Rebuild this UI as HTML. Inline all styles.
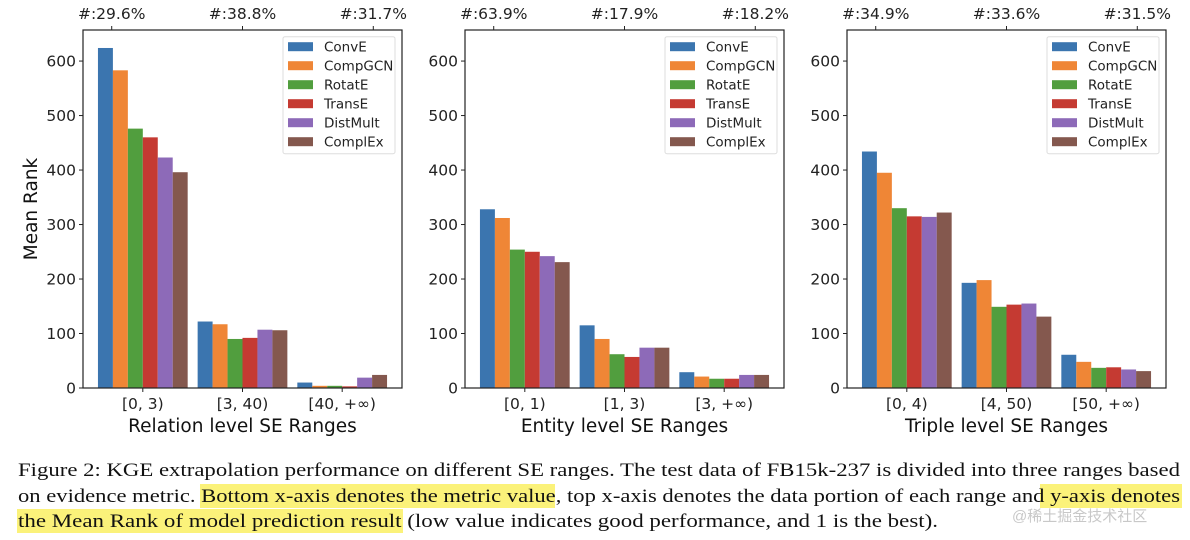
<!DOCTYPE html>
<html><head><meta charset="utf-8"><style>
body{margin:0;background:#fff;}
svg{display:block;font-family:"DejaVu Sans","Liberation Sans",sans-serif;}
</style></head><body>
<svg id="fig" width="1190" height="540" viewBox="0 0 1190 540" xmlns="http://www.w3.org/2000/svg">
<g id="charts"></g>
<g id="caption" font-family="'Liberation Serif',serif" font-size="19" fill="#111">
<rect x="200" y="484" width="355" height="24" fill="#fbf27a"/>
<rect x="1040" y="484" width="142" height="24" fill="#fbf27a"/>
<rect x="17" y="509" width="386" height="24" fill="#fbf27a"/>
<text x="18" y="476" textLength="1162" lengthAdjust="spacingAndGlyphs">Figure 2: KGE extrapolation performance on different SE ranges. The test data of FB15k-237 is divided into three ranges based</text>
<text x="18" y="502" textLength="1162" lengthAdjust="spacingAndGlyphs">on evidence metric. Bottom x-axis denotes the metric value, top x-axis denotes the data portion of each range and y-axis denotes</text>
<text x="18" y="527" textLength="920" lengthAdjust="spacingAndGlyphs">the Mean Rank of model prediction result (low value indicates good performance, and 1 is the best).</text>
<text x="1012" y="521" font-family="'Liberation Sans','Noto Sans CJK SC',sans-serif" font-size="15" fill="#c8c8c8">@稀土掘金技术社区</text>
</g>
</svg>
<script>
const series = ["ConvE","CompGCN","RotatE","TransE","DistMult","ComplEx"];
const colors = ["#3b75af","#ef8636","#519e3e","#c53a32","#8d6ab8","#84584e"];
const yTicks = [0,100,200,300,400,500,600];
const relCats = ["[0, 3)","[3, 40)","[40, +\u221e)"];
const relTop = ["#:29.6%","#:38.8%","#:31.7%"];
const relConvE=[624,122,10], relCompGCN=[583,117,4], relRotatE=[476,90,4], relTransE=[460,92,3], relDistMult=[423,107,19], relComplEx=[396,106,24];
const entCats = ["[0, 1)","[1, 3)","[3, +\u221e)"];
const entTop = ["#:63.9%","#:17.9%","#:18.2%"];
const entConvE=[328,115,29], entCompGCN=[312,90,21], entRotatE=[254,62,17], entTransE=[250,57,17], entDistMult=[242,74,24], entComplEx=[231,74,24];
const triCats = ["[0, 4)","[4, 50)","[50, +\u221e)"];
const triTop = ["#:34.9%","#:33.6%","#:31.5%"];
const triConvE=[434,193,61], triCompGCN=[395,198,48], triRotatE=[330,149,37], triTransE=[315,153,38], triDistMult=[314,155,34], triComplEx=[322,131,31];

const panels = [
 {name:"relation",left:83,cats:relCats,top:relTop,xlabel:"Relation level SE Ranges",vals:[relConvE,relCompGCN,relRotatE,relTransE,relDistMult,relComplEx],ylabel:true},
 {name:"entity",left:465,cats:entCats,top:entTop,xlabel:"Entity level SE Ranges",vals:[entConvE,entCompGCN,entRotatE,entTransE,entDistMult,entComplEx]},
 {name:"triple",left:847,cats:triCats,top:triTop,xlabel:"Triple level SE Ranges",vals:[triConvE,triCompGCN,triRotatE,triTransE,triDistMult,triComplEx]}
];
const NS="http://www.w3.org/2000/svg";
const root=document.getElementById('charts');
function mk(tag,attrs,parent){const e=document.createElementNS(NS,tag);for(const k in attrs)e.setAttribute(k,attrs[k]);parent.appendChild(e);return e;}
const W=319, TOP=30, BOT=388, YMAX=657;
const yS=v=>BOT-(v/YMAX)*(BOT-TOP);
panels.forEach(p=>{
 const g=mk('g',{},root);
 
 
 const xS=c=>p.left+(c+0.6)/3.2*W;
 const bw=0.15/3.2*W;
 p.vals.forEach((arr,si)=>{
  arr.forEach((v,ci)=>{
   const x=xS(ci)+(si-3)*bw;
   const r=mk('rect',{x:x,y:yS(v),width:bw,height:BOT-yS(v),fill:colors[si]},g);
   
   
  });
 });
 const fr=mk('rect',{x:p.left,y:TOP,width:W,height:BOT-TOP,fill:'none',stroke:'#222','stroke-width':1.2},g);
 
 
 yTicks.forEach(t=>{
  const y=yS(t);
  mk('line',{x1:p.left-4,x2:p.left,y1:y,y2:y,stroke:'#222'},g);
  const tx=mk('text',{x:p.left-7,y:y+5.5,'text-anchor':'end','font-size':15.5,fill:'#222'},g);
  tx.textContent=t;
  
  
 });
 p.cats.forEach((c,i)=>{
  const x=xS(i);
  mk('line',{x1:x,x2:x,y1:BOT,y2:BOT+4,stroke:'#222'},g);
  const tx=mk('text',{x:x,y:409,'text-anchor':'middle','font-size':15.5,fill:'#222'},g);
  tx.textContent=c;
  
  
 });
 p.top.forEach((c,i)=>{
  const x=p.left+W*(0.09+0.41*i);
  mk('line',{x1:x,x2:x,y1:TOP-4,y2:TOP,stroke:'#222'},g);
  const tx=mk('text',{x:x,y:19,'text-anchor':'middle','font-size':15.5,fill:'#222'},g);
  tx.textContent=c;
  
  
 });
 const xl=mk('text',{x:p.left+W/2,y:432,'text-anchor':'middle','font-size':18.5,fill:'#111'},g);
 xl.textContent=p.xlabel;
 
 
 if(p.ylabel){
  const yl=mk('text',{x:0,y:0,'text-anchor':'middle','font-size':18.5,fill:'#111',transform:'translate(37,209) rotate(-90)'},g);
  yl.textContent='Mean Rank';
  
  
 }
 const lg=mk('g',{},g);
 
 
 const lx=p.left+W-119;
 mk('rect',{x:lx,y:36.7,width:112,height:117,fill:'#fff',stroke:'#ddd',rx:2},lg);
 series.forEach((s,i)=>{
  const cy=46.7+19*i;
  mk('rect',{x:lx+5,y:cy-4.5,width:25,height:9,fill:colors[i]},lg);
  const t=mk('text',{x:lx+41,y:cy+5,'font-size':13.5,fill:'#222'},lg);
  t.textContent=s;
  
  
 });
});
</script>
</body></html>
